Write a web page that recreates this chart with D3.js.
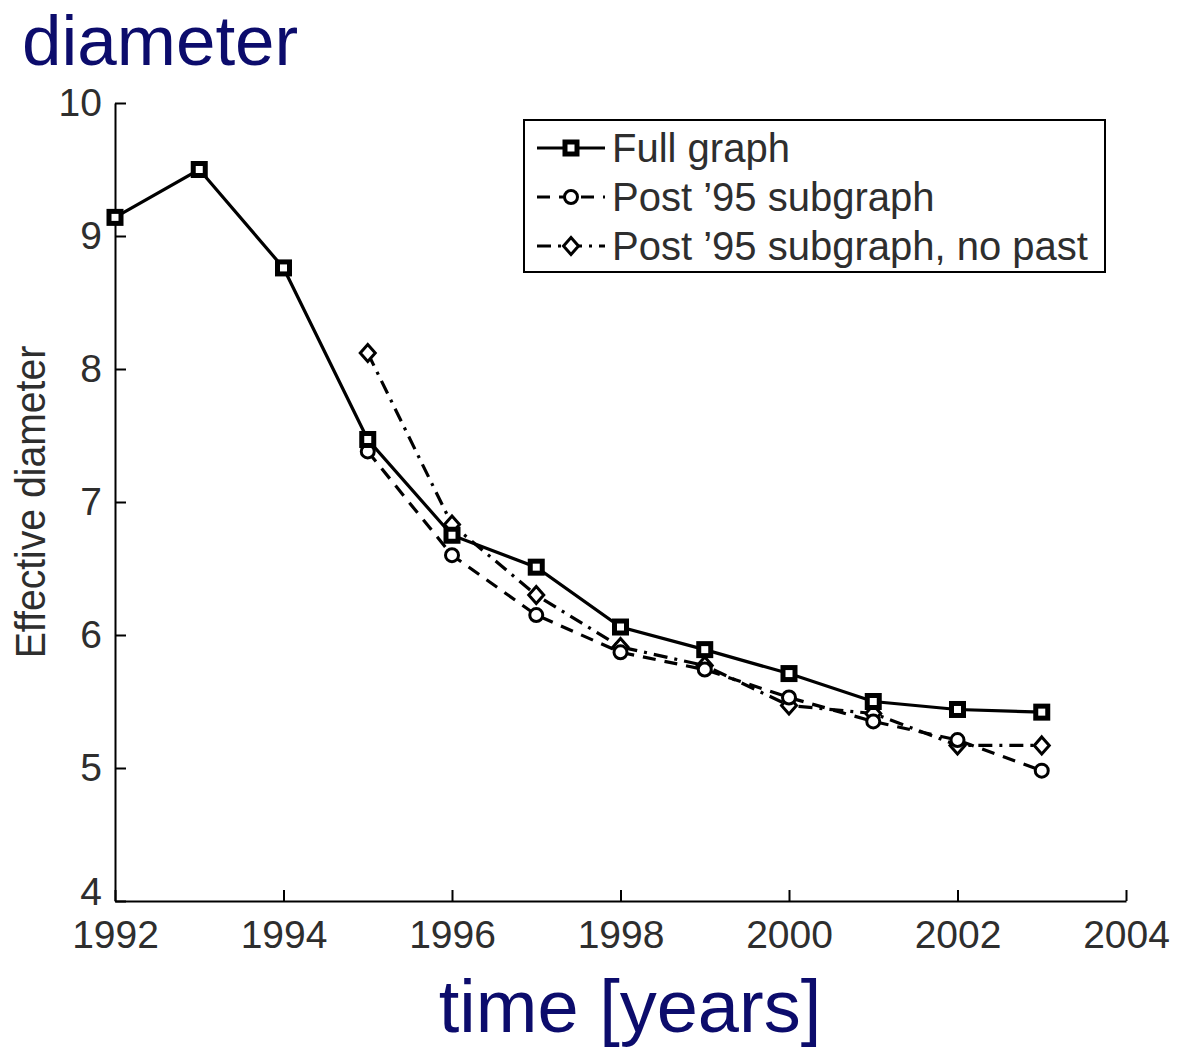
<!DOCTYPE html>
<html><head><meta charset="utf-8">
<script src="https://cdn.jsdelivr.net/npm/d3@7"></script>
<style>body{margin:0;background:#fff}svg{display:block}</style>
</head><body>
<script>
const yearsFull = [1992,1993,1994,1995,1996,1997,1998,1999,2000,2001,2002,2003];
const fullGraph = [9.14,9.50,8.76,7.47,6.75,6.51,6.06,5.89,5.71,5.50,5.44,5.42];
const yearsPost = [1995,1996,1997,1998,1999,2000,2001,2002,2003];
const postSub   = [7.38,6.60,6.15,5.87,5.74,5.53,5.35,5.21,4.98];
const postNoPast= [8.12,6.83,6.30,5.91,5.77,5.47,5.41,5.17,5.17];
const xTicks = [1992,1994,1996,1998,2000,2002,2004];
const yTicks = [4,5,6,7,8,9,10];
const legendLabels = ["Full graph","Post \u201995 subgraph","Post \u201995 subgraph, no past"];

const W=1177,H=1047;
const svg=d3.select("body").append("svg").attr("width",W).attr("height",H);
const x=d3.scaleLinear().domain([1992,2004]).range([115,1126]);
const y=d3.scaleLinear().domain([4,10]).range([901,103]);
const navy="#0c0c6c", tcol="#2e2e2e";
const FF="Liberation Sans, Arial, sans-serif";

// titles
svg.append("text").attr("x",22).attr("y",65).attr("font-family",FF)
  .attr("font-size",71).attr("fill",navy).text("diameter");
svg.append("text").attr("x",630).attr("y",1032).attr("text-anchor","middle").attr("font-family",FF)
  .attr("font-size",74).attr("fill",navy).text("time [years]");

// axes
const gx=svg.append("g").attr("transform","translate(0,901)")
  .call(d3.axisBottom(x).tickValues(xTicks).tickFormat(d3.format("d")).tickSizeInner(-11).tickSizeOuter(0).tickPadding(19));
const gy=svg.append("g").attr("transform","translate(115,0)")
  .call(d3.axisLeft(y).tickValues(yTicks).tickFormat(d3.format("d")).tickSizeInner(-11).tickSizeOuter(0).tickPadding(13));
[gx,gy].forEach(g=>{
  g.select(".domain").attr("stroke","#000").attr("stroke-width",2);
  g.selectAll(".tick line").attr("stroke","#000").attr("stroke-width",2);
  g.selectAll(".tick text").attr("font-family",FF).attr("font-size",39).attr("fill",tcol);
});
gx.selectAll(".tick text").attr("dy","0.71em");
gy.selectAll(".tick text").filter(d=>d===4).attr("dy","0.1em");

// y label
svg.append("text").attr("transform","translate(45,502) rotate(-90) scale(0.91,1)")
  .attr("text-anchor","middle").attr("font-family",FF)
  .attr("font-size",43).attr("fill",tcol).text("Effective diameter");

// markers
function square(g,cx,cy){g.append("rect").attr("x",cx-6).attr("y",cy-6).attr("width",12).attr("height",12)
  .attr("fill","#fff").attr("stroke","#000").attr("stroke-width",5);}
function circle(g,cx,cy){g.append("circle").attr("cx",cx).attr("cy",cy).attr("r",6.5)
  .attr("fill","#fff").attr("stroke","#000").attr("stroke-width",3);}
function diamond(g,cx,cy){g.append("path").attr("d",`M${cx},${cy-8.5}L${cx+7.5},${cy}L${cx},${cy+8.5}L${cx-7.5},${cy}Z`)
  .attr("fill","#fff").attr("stroke","#000").attr("stroke-width",3);}

const series=[
  {xs:yearsPost,ys:postNoPast,dash:"14,7,3,7",mk:diamond},
  {xs:yearsPost,ys:postSub,dash:"13,9",mk:circle},
  {xs:yearsFull,ys:fullGraph,dash:null,mk:square}
];
const line=d3.line().x(d=>x(d[0])).y(d=>y(d[1]));
series.forEach(s=>{
  const pts=s.xs.map((v,i)=>[v,s.ys[i]]);
  svg.append("path").datum(pts).attr("d",line).attr("fill","none").attr("stroke","#000")
    .attr("stroke-width",3.2).attr("stroke-dasharray",s.dash);
});
series.forEach(s=>{
  const g=svg.append("g");
  s.xs.forEach((v,i)=>s.mk(g,x(v),y(s.ys[i])));
});

// legend
const lg=svg.append("g");
lg.append("rect").attr("x",524).attr("y",120).attr("width",581).attr("height",152)
  .attr("fill","#fff").attr("stroke","#000").attr("stroke-width",2);
const legSeries=[series[2],series[1],series[0]];
legendLabels.forEach((lab,i)=>{
  const cy=148+i*49;
  lg.append("line").attr("x1",537).attr("x2",605).attr("y1",cy).attr("y2",cy)
    .attr("stroke","#000").attr("stroke-width",3.2).attr("stroke-dasharray",legSeries[i].dash);
  legSeries[i].mk(lg,571,cy);
  lg.append("text").attr("x",612).attr("y",cy+14).attr("font-family",FF)
    .attr("font-size",40).attr("fill",tcol).text(lab);
});
</script>
</body></html>
